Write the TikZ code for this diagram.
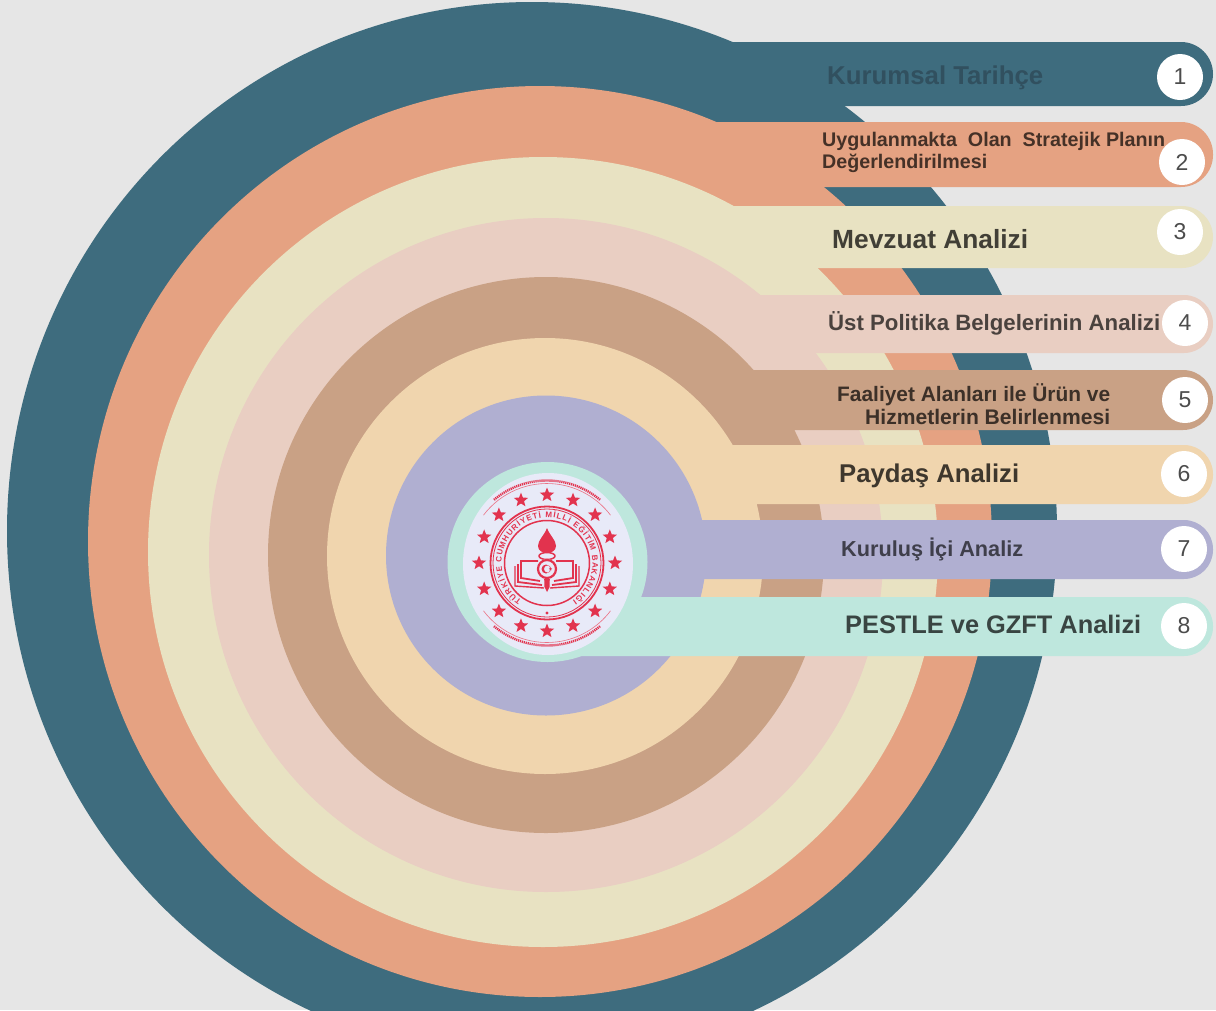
\documentclass[tikz,border=0pt]{standalone}
\usepackage{graphicx}
\usepackage{fontspec}
\setmainfont{Liberation Sans}
\usetikzlibrary{shapes.geometric,decorations.text}
\definecolor{bgc}{HTML}{E6E6E6}
\definecolor{cteal}{HTML}{3E6C7E}
\definecolor{corange}{HTML}{E5A282}
\definecolor{cyellow}{HTML}{E8E2C2}
\definecolor{cpink}{HTML}{E9CEC2}
\definecolor{cbrown}{HTML}{C9A185}
\definecolor{cpeach}{HTML}{F0D5AE}
\definecolor{clav}{HTML}{B0AFD1}
\definecolor{cmint}{HTML}{BEE7DD}
\definecolor{cpale}{HTML}{E8EAF8}
\definecolor{cred}{HTML}{E2334E}
\definecolor{numgray}{HTML}{4C4C4C}
\definecolor{tone}{HTML}{31505F}
\newcommand\fitto[2]{\resizebox{#1pt}{!}{#2}}
\tikzset{
  bandlabel/.style={anchor=base west,inner sep=0pt,font=\bfseries\fontsize{20}{24}\selectfont},
  numdisc/.style={circle,fill=white,minimum size=46pt,inner sep=0pt,font=\fontsize{23}{25}\selectfont,text=numgray},
  emstar/.style={star,star points=5,star point ratio=2.3,minimum size=15pt,inner sep=0pt,fill=cred},
  emline/.style={draw=cred,line width=1.5pt},
}
\begin{document}
\begin{tikzpicture}[x=1pt,y=-1pt]
\useasboundingbox (0,0) rectangle (1216,1010);
\clip (0,0) rectangle (1216,1010);
\fill[bgc] (0,0) rectangle (1216,1010);
% rings with their bands, outermost first
\fill[cteal] (532,531) ellipse [x radius=525pt,y radius=529pt];
\fill[cteal,rounded corners=32pt] (532,42) rectangle (1213,106);
\fill[corange] (540,541.5) ellipse [x radius=452pt,y radius=455.5pt];
\fill[corange,rounded corners=32pt] (540,122) rectangle (1213,187);
\fill[cyellow] (543,552) circle [radius=395pt];
\fill[cyellow,rounded corners=31pt] (543,206) rectangle (1213,268);
\fill[cpink] (546,555) circle [radius=337pt];
\fill[cpink,rounded corners=29pt] (546,295) rectangle (1213,353);
\fill[cbrown] (546,555) circle [radius=278pt];
\fill[cbrown,rounded corners=30pt] (546,370) rectangle (1213,430);
\fill[cpeach] (545,556) circle [radius=218pt];
\fill[cpeach,rounded corners=29pt] (545,445) rectangle (1213,504);
\fill[clav] (546,555.5) circle [radius=160pt];
\fill[clav,rounded corners=29pt] (546,520) rectangle (1213,579);
\fill[cmint] (547.5,562) circle [radius=100pt];
\fill[cmint,rounded corners=29pt] (547.5,597) rectangle (1213,656);
% labels
\node[bandlabel,text=tone] (t1) at (827,84) {\fitto{216}{Kurumsal Tarihçe}};
\node[bandlabel,text=corange!30!black] (t2a) at (822,146) {\fitto{343}{Uygulanmakta\ \ Olan\ \ Stratejik Planın}};
\node[bandlabel,text=corange!30!black] (t2b) at (822,168) {\fitto{165}{Değerlendirilmesi}};
\node[bandlabel,text=cyellow!28!black] (t3) at (832,248) {\fitto{196}{Mevzuat Analizi}};
\node[bandlabel,text=cpink!32!black] (t4) at (828,330) {\fitto{332}{Üst Politika Belgelerinin Analizi}};
\node[bandlabel,text=cbrown!30!black] (t5a) at (837,401) {\fitto{273}{Faaliyet Alanları ile Ürün ve}};
\node[bandlabel,text=cbrown!30!black] (t5b) at (865,424) {\fitto{245}{Hizmetlerin Belirlenmesi}};
\node[bandlabel,text=cpeach!26!black] (t6) at (839,482) {\fitto{180}{Paydaş Analizi}};
\node[bandlabel,text=clav!36!black] (t7) at (841,556) {\fitto{182}{Kuruluş İçi Analiz}};
\node[bandlabel,text=cmint!30!black] (t8) at (845,633) {\fitto{296}{PESTLE ve GZFT Analizi}};
% number discs
\node[numdisc] (n1) at (1180,77) {1};
\node[numdisc] (n2) at (1182,162) {2};
\node[numdisc] (n3) at (1180,232) {3};
\node[numdisc] (n4) at (1185,323) {4};
\node[numdisc] (n5) at (1185,400) {5};
\node[numdisc] (n6) at (1184,474) {6};
\node[numdisc] (n7) at (1184,549) {7};
\node[numdisc] (n8) at (1184,626) {8};
% emblem
\fill[cpale] (548,564) ellipse [x radius=85pt,y radius=91pt];
\begin{scope}[shift={(547,563)},x=1pt,y=1pt]
  \foreach \i in {0,...,15} {
    \node[emstar] (st\i) at ({22.5*\i}:68) {};
  }
  \draw[cred,line width=2.4pt,dash pattern=on 1.2pt off 0.8pt] (130:82.5) arc [start angle=130,end angle=50,radius=82.5pt];
  \draw[cred,line width=2.4pt,dash pattern=on 1.2pt off 0.8pt] (230:82.5) arc [start angle=230,end angle=310,radius=82.5pt];
  \draw[cred!70,line width=0.6pt] (143:79.5) arc [start angle=143,end angle=37,radius=79.5pt];
  \draw[cred!70,line width=0.6pt] (217:79.5) arc [start angle=217,end angle=323,radius=79.5pt];
  \draw[emline,line width=1.8pt] (0,0) circle [radius=56.5pt];
  \draw[emline,line width=0.8pt] (0,0) circle [radius=54pt];
  \draw[emline,line width=1.5pt] (0,0) circle [radius=42.5pt];
  \path[decorate,decoration={text along path,text align=fit to path,
      text={|\color{cred}\bfseries\fontsize{8}{9}\selectfont|TÜRKİYE CUMHURİYETİ MİLLİ EĞİTİM BAKANLIĞI}}]
    (236:45.5) arc [start angle=236,end angle=-56,radius=45.5pt];
  \fill[cred] (0,-50) circle [radius=1.6pt];
  % torch flame and cup
  \fill[cred] (0,35) .. controls (3,27) and (9,23) .. (9,17) .. controls (9,12) and (4,10) .. (0,10) .. controls (-4,10) and (-9,12) .. (-9,17) .. controls (-9,23) and (-3,27) .. (0,35) -- cycle;
  \draw[emline] (0,7) ellipse [x radius=8pt,y radius=3.5pt];
  \draw[emline] (-2,3.5) -- (-2,3) (2,3.5) -- (2,3);
  % book
  \foreach \s in {-1,1} {
    \begin{scope}[xscale=\s]
      \draw[emline,line width=1.8pt] (9,2) -- (26,2) -- (26,-15) -- (7,-18);
      \draw[emline,line width=1.8pt] (29,-1) -- (29,-19) -- (5,-22);
      \draw[emline,line width=1.4pt] (32,-3) -- (32,-23) -- (3,-25);
    \end{scope}
  }
  % medallion
  \fill[cpale] (0,-6) circle [radius=10pt];
  \draw[emline,line width=2.2pt] (0,-6) circle [radius=9pt];
  \fill[cred,even odd rule] (-1,-6) circle [radius=4.5pt] (0.5,-6) circle [radius=3.6pt];
  \node[star,star points=5,star point ratio=2.4,minimum size=3.5pt,inner sep=0pt,fill=cred] (mst) at (3.5,-6) {};
  % stem
  \fill[cred] (-2.8,-16) -- (2.8,-16) -- (2.5,-24) -- (0,-29) -- (-2.5,-24) -- cycle;
\end{scope}
\end{tikzpicture}
\end{document}
